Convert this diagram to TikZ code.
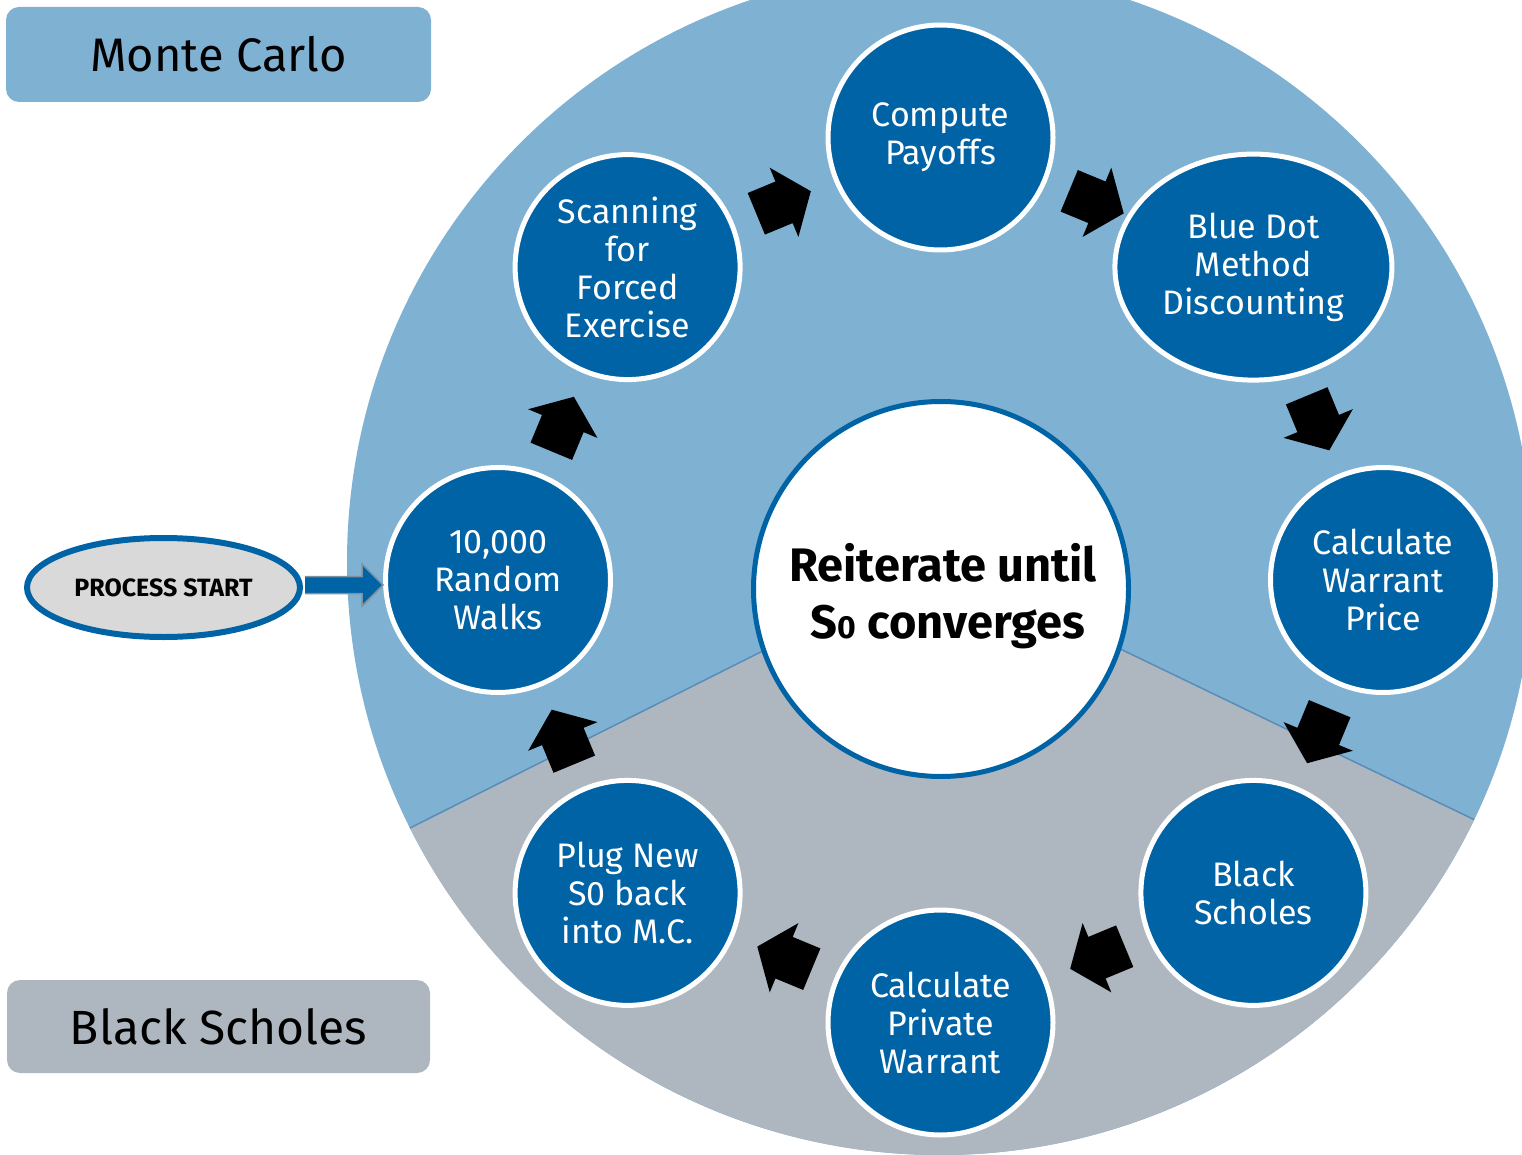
\documentclass[tikz,border=0pt]{standalone}
\usepackage{fontspec}
\setmainfont{Fira Sans}
\usetikzlibrary{calc,shapes.geometric,decorations.markings}
\definecolor{nodeblue}{RGB}{0,99,165}
\definecolor{ringblue}{RGB}{127,177,211}
\definecolor{ringgrey}{RGB}{174,183,191}
\definecolor{edgeblue}{RGB}{88,140,185}
\definecolor{startgrey}{RGB}{217,217,217}
\definecolor{arrowedge}{RGB}{125,145,160}
\begin{document}
\begin{tikzpicture}[x=1pt,y=1pt,
  stepnode/.style={circle, fill=nodeblue, draw=white, line width=5pt, minimum size=225pt, inner sep=0pt, align=center, text=white, font=\fontsize{34}{38}\selectfont},
  labelbox/.style={rounded corners=13pt, inner sep=0pt, font=\fontsize{47}{50}\selectfont, text=black},
  flowarrow/.style={decoration={markings, mark=at position 0.5 with {\fill[black] (-30,-22.5) -- (0,-22.5) -- (0,-37.5) -- (29,0) -- (0,37.5) -- (0,22.5) -- (-30,22.5) -- cycle;}}, postaction={decorate}}
]
\useasboundingbox (0,0) rectangle (1522,-1155);
\begin{scope}
  \clip (0,0) rectangle (1522,-1155);
  \coordinate (O) at (940,-562);
  \fill[ringblue] (O) circle[radius=593];
  \fill[ringgrey] (O) -- ++(206.65:593) arc[start angle=206.65, end angle=334.25, radius=593] -- cycle;
  \draw[edgeblue, line width=1.5pt] ($(O)+(206.65:593)$) -- (O) -- ($(O)+(334.25:593)$);
\end{scope}

\node[labelbox, fill=ringblue, minimum width=425pt, minimum height=95pt] (mc) at (218.5,-54.5) {Monte Carlo};
\node[labelbox, fill=ringgrey, minimum width=423pt, minimum height=93pt, font=\fontsize{48}{50}\selectfont] (bsl) at (218.5,-1026.5) {Black Scholes};

\coordinate (C) at (940.5,-580);
\node[stepnode] (rw) at ($(C)+(180:442.5)$) {10,000\\Random\\Walks};
\node[stepnode] (sc) at ($(C)+(135:442.5)$) {Scanning\\for\\Forced\\Exercise};
\node[stepnode] (cp) at ($(C)+(90:442.5)$) {Compute\\Payoffs};
\node[stepnode, ellipse, minimum width=277pt, minimum height=226pt] (bd) at ($(C)+(45:442.5)$) {Blue Dot\\Method\\Discounting};
\node[stepnode] (wp) at ($(C)+(0:442.5)$) {Calculate\\Warrant\\Price};
\node[stepnode] (bs) at ($(C)+(-45:442.5)$) {Black\\Scholes};
\node[stepnode] (pw) at ($(C)+(-90:442.5)$) {Calculate\\Private\\Warrant};
\node[stepnode] (pl) at ($(C)+(-135:442.5)$) {Plug New\\S0 back\\into M.C.};

\path[flowarrow] (rw.center) -- (sc.center);
\path[flowarrow] (sc.center) -- (cp.center);
\path[flowarrow] (cp.center) -- (bd.center);
\path[flowarrow] (bd.center) -- (wp.center);
\path[flowarrow] (wp.center) -- (bs.center);
\path[flowarrow] (bs.center) -- (pw.center);
\path[flowarrow] (pw.center) -- (pl.center);
\path[flowarrow] (pl.center) -- (rw.center);

\node[circle, fill=white, draw=nodeblue, line width=5pt, minimum size=375pt, inner sep=0pt] (ctr) at (941,-589) {};
\node[align=center, inner sep=0pt, font=\fontsize{47}{57}\selectfont\bfseries] (ctrt) at (943,-596) {Reiterate until\\\hspace*{10pt}S{\fontsize{32}{32}\selectfont 0} converges};

\node[ellipse, fill=startgrey, draw=nodeblue, line width=6pt, minimum width=273pt, minimum height=99pt, inner sep=0pt, font=\fontsize{25}{27}\selectfont\bfseries] (pst) at (163.5,-587.5) {PROCESS START};

\coordinate (as) at ([xshift=2pt, yshift=2.5pt]pst.east);
\coordinate (ae) at (as -| rw.west);
\fill[nodeblue] let \p1=(as), \p2=(ae) in (\x1,\y1+8.5pt) -- (\x2-21pt,\y1+8.5pt) -- (\x2-21pt,\y1+21pt) -- (\x2,\y1) -- (\x2-21pt,\y1-21pt) -- (\x2-21pt,\y1-8.5pt) -- (\x1,\y1-8.5pt) -- cycle;
\draw[arrowedge, line width=1.5pt, line join=miter] let \p1=(as), \p2=(ae) in (\x1,\y1+8.5pt) -- (\x2-21pt,\y1+8.5pt) -- (\x2-21pt,\y1+21pt) -- (\x2,\y1) -- (\x2-21pt,\y1-21pt) -- (\x2-21pt,\y1-8.5pt) -- (\x1,\y1-8.5pt);
\end{tikzpicture}
\end{document}
